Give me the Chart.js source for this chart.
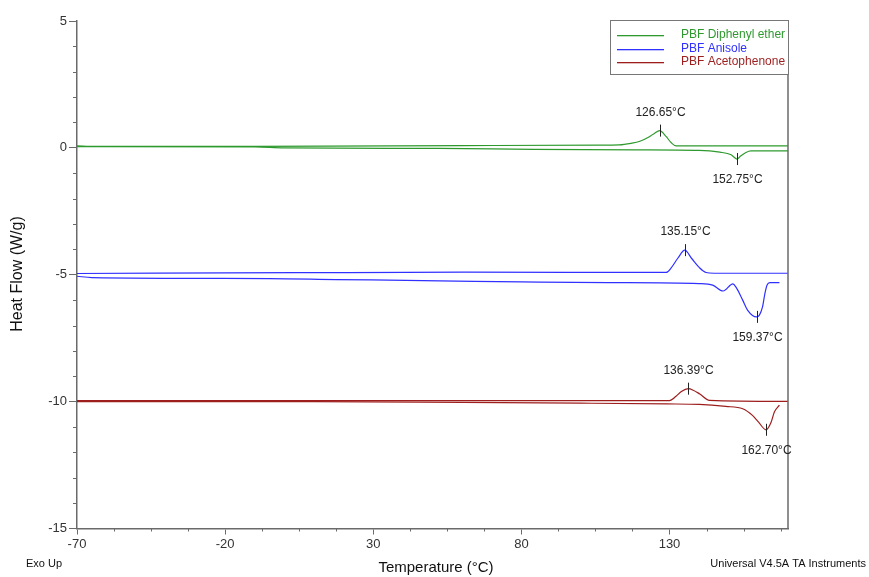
<!DOCTYPE html>
<html>
<head>
<meta charset="utf-8">
<script src="https://cdn.jsdelivr.net/npm/chart.js@4.4.0/dist/chart.umd.min.js"></script>
<style>
  html, body { margin: 0; padding: 0; background: #fff; }
  canvas { display: block; }
</style>
</head>
<body>
<canvas id="dsc" width="869" height="577"></canvas>
<script>
// Series names and colours (legend order)
const seriesNames = ['PBF Diphenyl ether', 'PBF Anisole', 'PBF Acetophenone'];
const seriesColors = ['#2e9a2e', '#3030ff', '#9e1e1e'];

// Diphenyl ether - cooling (exo peak) and heating (endo dip)
const dpeCoolT = [-70, -64, -10, 60, 106, 113, 117, 120, 123.2, 125, 126.65, 128.9, 130.6, 132.2, 135, 170];
const dpeCoolY = [0.08, 0.06, 0.06, 0.09, 0.11, 0.12, 0.18, 0.26, 0.44, 0.58, 0.68, 0.44, 0.2, 0.08, 0.08, 0.08];
const dpeHeatT = [-70, -10, 0, 52, 84, 119, 140, 147, 150.8, 152.75, 154, 155.8, 157.5, 170];
const dpeHeatY = [0.05, 0.04, 0.0, -0.02, -0.06, -0.08, -0.1, -0.17, -0.27, -0.44, -0.32, -0.18, -0.12, -0.12];

// Anisole
const aniCoolT = [-70, 4, 61, 128.9, 130.5, 132.8, 135.15, 137.5, 140.1, 142.3, 145, 170];
const aniCoolY = [-4.95, -4.92, -4.9, -4.91, -4.74, -4.35, -4.03, -4.36, -4.72, -4.91, -4.94, -4.94];
const aniHeatT = [-70, -65, -5, 17.5, 41, 64, 80, 109.5, 140, 144.6, 148.1, 151.4, 152.5, 154.7, 156.4, 159.37, 160.3, 161.4, 162.2, 162.9, 163.9, 167.1];
const aniHeatY = [-5.06, -5.11, -5.15, -5.19, -5.22, -5.26, -5.28, -5.31, -5.35, -5.41, -5.64, -5.36, -5.5, -6.0, -6.4, -6.66, -6.6, -6.27, -5.74, -5.41, -5.31, -5.31];

// Acetophenone
const aceCoolT = [-70, 130, 132.2, 134, 136.39, 138, 140.1, 143.5, 170];
const aceCoolY = [-9.96, -9.96, -9.79, -9.6, -9.49, -9.55, -9.69, -9.95, -9.99];
const aceHeatT = [-70, -40, 10, 60, 100, 129, 140, 149, 154.7, 158.1, 160, 162.6, 164.3, 165.4, 167.1];
const aceHeatY = [-10.0, -10.0, -10.0, -10.03, -10.06, -10.09, -10.11, -10.19, -10.28, -10.55, -10.8, -11.11, -10.81, -10.41, -10.14];

// Peak annotations
const peakTemps = [126.65, 152.75, 135.15, 159.37, 136.39, 162.70];
const peakFlows = [0.68, -0.44, -4.03, -6.66, -9.49, -11.11];
const peakLabels = ['126.65°C', '152.75°C', '135.15°C', '159.37°C', '136.39°C', '162.70°C'];
const peakIsExo = [true, false, true, false, true, false];

// Axis ticks
const xMajorTicks = [-70, -20, 30, 80, 130];
const yMajorTicks = [5, 0, -5, -10, -15];

const FONT = '"Liberation Sans", Arial, sans-serif';

function toPoints(ts, ys) {
  return ts.map((t, i) => ({x: t, y: ys[i]}));
}

function curve(ts, ys, color) {
  return {
    data: toPoints(ts, ys),
    borderColor: color,
    borderWidth: 1.2,
    pointRadius: 0,
    fill: false,
    cubicInterpolationMode: 'monotone',
  };
}

const datasets = [
  curve(dpeCoolT, dpeCoolY, seriesColors[0]),
  curve(dpeHeatT, dpeHeatY, seriesColors[0]),
  curve(aniCoolT, aniCoolY, seriesColors[1]),
  curve(aniHeatT, aniHeatY, seriesColors[1]),
  curve(aceCoolT, aceCoolY, seriesColors[2]),
  curve(aceHeatT, aceHeatY, seriesColors[2]),
];

const xTickValues = [];
for (let v = -70; v <= 170; v += 12.5) xTickValues.push(v);

const decor = {
  id: 'decor',
  afterDraw(chart) {
    const {ctx, chartArea: a, scales: {x, y}} = chart;
    ctx.save();

    // minor ticks
    ctx.strokeStyle = '#6a6a6a';
    ctx.lineWidth = 1;
    ctx.beginPath();
    for (const v of xTickValues) {
      if (xMajorTicks.includes(v)) continue;
      const px = Math.round(x.getPixelForValue(v)) + 0.5;
      ctx.moveTo(px, a.bottom);
      ctx.lineTo(px, a.bottom + 3);
    }
    for (let v = -15; v <= 5; v++) {
      if (yMajorTicks.includes(v)) continue;
      const py = Math.round(y.getPixelForValue(v)) + 0.5;
      ctx.moveTo(a.left - 4, py);
      ctx.lineTo(a.left, py);
    }
    ctx.stroke();

    // right frame line
    ctx.lineWidth = 1.5;
    ctx.beginPath();
    ctx.moveTo(a.right, a.top);
    ctx.lineTo(a.right, a.bottom);
    ctx.stroke();

    // peak markers + labels
    ctx.strokeStyle = '#222';
    ctx.lineWidth = 1;
    ctx.fillStyle = '#222';
    ctx.font = '12px ' + FONT;
    ctx.textAlign = 'center';
    ctx.textBaseline = 'middle';
    peakTemps.forEach((t, i) => {
      const px = Math.round(x.getPixelForValue(t)) + 0.5;
      const py = y.getPixelForValue(peakFlows[i]);
      ctx.beginPath();
      ctx.moveTo(px, py - 6);
      ctx.lineTo(px, py + 6);
      ctx.stroke();
      ctx.fillText(peakLabels[i], px, py + (peakIsExo[i] ? -18 : 21));
    });

    // legend box
    const lx = 610, ly = 20, lw = a.right - 610, lh = 54;
    ctx.fillStyle = '#fff';
    ctx.fillRect(lx, ly, lw, lh);
    ctx.strokeStyle = '#777';
    ctx.lineWidth = 1;
    ctx.strokeRect(lx + 0.5, ly + 0.5, lw, lh);
    ctx.textAlign = 'left';
    seriesNames.forEach((name, i) => {
      const yy = 35 + i * 13.5;
      ctx.fillStyle = seriesColors[i];
      ctx.fillRect(617, Math.round(yy), 47, 1.3);
      ctx.fillText(name, 681, yy);
    });

    // titles and footer
    ctx.fillStyle = '#111';
    ctx.textAlign = 'center';
    ctx.font = '15px ' + FONT;
    ctx.fillText('Temperature (°C)', 436, 568);
    ctx.save();
    ctx.translate(18, 274);
    ctx.rotate(-Math.PI / 2);
    ctx.font = '16px ' + FONT;
    ctx.fillText('Heat Flow (W/g)', 0, 0);
    ctx.restore();
    ctx.font = '11px ' + FONT;
    ctx.textAlign = 'left';
    ctx.fillText('Exo Up', 26, 564);
    ctx.textAlign = 'right';
    ctx.fillText('Universal V4.5A TA Instruments', 866, 564);

    ctx.restore();
  },
};

new Chart(document.getElementById('dsc'), {
  type: 'line',
  data: {datasets},
  plugins: [decor],
  options: {
    responsive: false,
    animation: false,
    layout: {padding: {top: 21, right: 81, left: 0, bottom: 0}},
    plugins: {legend: {display: false}, tooltip: {enabled: false}},
    scales: {
      x: {
        type: 'linear',
        min: -70,
        max: 170,
        afterBuildTicks: (s) => { s.ticks = xTickValues.map((v) => ({value: v})); },
        afterFit: (s) => { s.height = 48.5; },
        ticks: {
          autoSkip: false,
          maxRotation: 0,
          padding: 2,
          color: '#333',
          font: {family: FONT, size: 13},
          callback: (v) => (xMajorTicks.includes(v) ? String(v) : ''),
        },
        grid: {
          drawOnChartArea: false,
          tickLength: 6,
          tickColor: (c) => (xMajorTicks.includes(c.tick && c.tick.value) ? '#6a6a6a' : 'rgba(0,0,0,0)'),
        },
        border: {color: '#6a6a6a', width: 1.5},
      },
      y: {
        type: 'linear',
        min: -15,
        max: 5,
        afterFit: (s) => { s.width = 77; },
        ticks: {
          stepSize: 5,
          padding: 2,
          color: '#333',
          font: {family: FONT, size: 13},
        },
        grid: {
          drawOnChartArea: false,
          tickLength: 8,
          tickColor: '#6a6a6a',
        },
        border: {color: '#6a6a6a', width: 1.5},
      },
    },
  },
});
</script>
</body>
</html>
